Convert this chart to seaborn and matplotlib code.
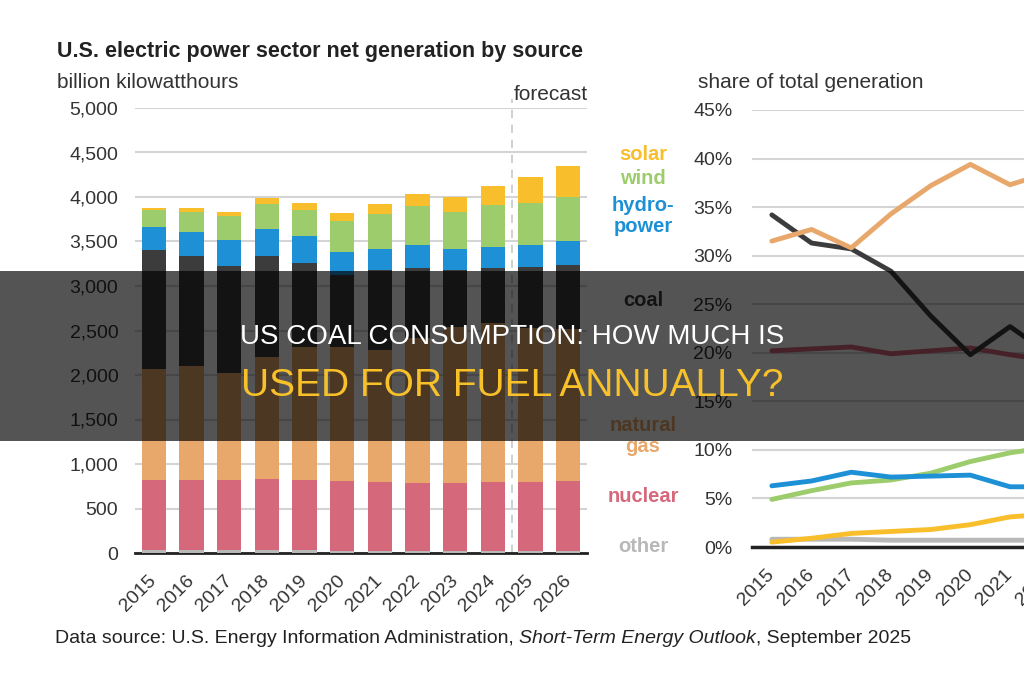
import matplotlib
matplotlib.use("Agg")
import matplotlib.pyplot as plt
import matplotlib.transforms as mtransforms
from matplotlib.patches import Rectangle
import seaborn as sns
import pandas as pd

# ---------------- data ----------------
years = ['2015', '2016', '2017', '2018', '2019', '2020',
         '2021', '2022', '2023', '2024', '2025', '2026']

# billion kWh, stacked bottom -> top
other = [30, 30, 30, 30, 30, 28, 28, 28, 28, 28, 28, 28]
nuclear = [790, 790, 790, 805, 790, 782, 772, 762, 762, 767, 767, 782]
natural_gas = [1250, 1280, 1205, 1365, 1495, 1505, 1480, 1630, 1750, 1785, 1735, 1710]
coal = [1330, 1240, 1200, 1140, 945, 810, 900, 780, 640, 620, 685, 715]
hydropower = [265, 265, 295, 300, 300, 260, 235, 260, 235, 240, 245, 270]
wind = [190, 225, 270, 280, 295, 345, 395, 440, 415, 470, 475, 495]
solar = [20, 50, 40, 70, 80, 90, 110, 135, 170, 215, 290, 350]

# share of total generation (%), 2015-2022
share_years = ['2015', '2016', '2017', '2018', '2019', '2020', '2021', '2022']
share_gas = [31.5, 32.7, 30.8, 34.3, 37.2, 39.4, 37.3, 38.6]
share_coal = [34.2, 31.3, 30.7, 28.4, 23.8, 19.8, 22.7, 19.8]
share_nuclear = [20.2, 20.4, 20.6, 19.9, 20.2, 20.5, 19.8, 19.2]
share_hydro = [6.3, 6.8, 7.7, 7.2, 7.3, 7.4, 6.2, 6.2]
share_wind = [4.9, 5.8, 6.6, 6.9, 7.6, 8.8, 9.7, 10.3]
share_solar = [0.5, 0.9, 1.4, 1.6, 1.8, 2.3, 3.1, 3.4]
share_other = [0.8, 0.8, 0.8, 0.7, 0.7, 0.7, 0.7, 0.7]

sources = ['other', 'nuclear', 'natural gas', 'coal', 'hydropower', 'wind', 'solar']
colors = {'other': '#b8b8b8', 'nuclear': '#d6687b', 'natural gas': '#e8a76b',
          'coal': '#3c3c3c', 'hydropower': '#1e90d6', 'wind': '#9ccc6b',
          'solar': '#f8be2c'}

gen = pd.DataFrame({'year': years, 'other': other, 'nuclear': nuclear,
                    'natural gas': natural_gas, 'coal': coal,
                    'hydropower': hydropower, 'wind': wind, 'solar': solar})
cum = gen[sources].cumsum(axis=1)

share = pd.DataFrame({'year': share_years, 'other': share_other,
                      'solar': share_solar, 'wind': share_wind,
                      'hydropower': share_hydro, 'nuclear': share_nuclear,
                      'coal': share_coal, 'natural gas': share_gas})
share['pos'] = [years.index(y) for y in share['year']]
share_long = share.melt(id_vars=['year', 'pos'], var_name='source', value_name='share')

# ---------------- style ----------------
sns.set_style("white")
plt.rcParams['font.family'] = ['Liberation Sans', 'DejaVu Sans']
txt = '#333333'

fig = plt.figure(figsize=(10.24, 6.8), dpi=100)
W, H = 1024, 680

# ---------------- left: stacked bars ----------------
ax = fig.add_axes([135 / W, 1 - 553 / H, 452 / W, 445 / H])
for src in reversed(sources):
    sns.barplot(x=gen['year'], y=cum[src], color=colors[src], width=0.64,
                saturation=1, linewidth=0, ax=ax, zorder=3)
ax.set_xlim(-0.5, 11.5)
ax.set_ylim(0, 5000)
ax.set_yticks(range(0, 5001, 500))
ax.set_yticklabels([f"{v:,}" for v in range(0, 5001, 500)])
ax.set_axisbelow(True)
ax.grid(axis='y', color='#d4d4d4', lw=1.5)
for s in ['left', 'right', 'top']:
    ax.spines[s].set_visible(False)
ax.spines['bottom'].set_color('#222222')
ax.spines['bottom'].set_linewidth(2)
ax.set_xlabel('')
ax.set_ylabel('')
ax.tick_params(axis='y', length=0, pad=12, labelsize=14, labelcolor=txt)
ax.set_xticks(range(12))
ax.set_xticks([i - 0.5 for i in range(13)], minor=True)
ax.tick_params(axis='x', which='major', length=0, pad=14, labelsize=14, labelcolor=txt)
ax.tick_params(axis='x', which='minor', length=5, width=1.5, color='#222222', direction='out')
ax.axvline(9.5, ymin=0, ymax=1.02, color='#c8c8c8', lw=1.2, ls=(0, (5, 4)),
           clip_on=False, zorder=1)

# ---------------- right: share lines ----------------
ax2 = fig.add_axes([752 / W, 1 - 547 / H, 12 * 39.7 / W, 437 / H])
sns.lineplot(data=share_long, x='pos', y='share', hue='source',
             palette=colors, linewidth=3.5, legend=False, ax=ax2, zorder=3)
ax2.set_xlim(-0.5, 11.5)
ax2.set_ylim(0, 45)
ax2.set_yticks(range(0, 46, 5))
ax2.set_yticklabels([f"{v}%" for v in range(0, 46, 5)])
ax2.set_xticks(range(12))
ax2.set_xticklabels(years)
ax2.grid(axis='y', color='#d4d4d4', lw=1.5)
ax2.set_axisbelow(True)
for s in ['left', 'right', 'top']:
    ax2.spines[s].set_visible(False)
ax2.spines['bottom'].set_color('#222222')
ax2.spines['bottom'].set_linewidth(2.5)
ax2.set_xlabel('')
ax2.set_ylabel('')
ax2.tick_params(axis='y', length=0, pad=14, labelsize=14, labelcolor=txt)
ax2.tick_params(axis='x', length=0, pad=14, labelsize=14, labelcolor=txt)

shift = mtransforms.ScaledTranslation(6 / 100, 0, fig.dpi_scale_trans)
for a in (ax, ax2):
    for lab in a.get_xticklabels():
        lab.set_rotation(45)
        lab.set_ha('right')
        lab.set_va('top')
        lab.set_transform(lab.get_transform() + shift)

# ---------------- texts ----------------
fig.text(57 / W, 1 - 57 / H, "U.S. electric power sector net generation by source",
         fontsize=15.5, weight='bold', color='#222222')
fig.text(57 / W, 1 - 88 / H, "billion kilowatthours", fontsize=15, color=txt)
fig.text(514 / W, 1 - 100 / H, "forecast", fontsize=15, color=txt)
fig.text(698 / W, 1 - 88 / H, "share of total generation", fontsize=15, color=txt)

legend_pos = [('solar', 'solar', 155), ('wind', 'wind', 178),
              ('hydro-\npower', 'hydropower', 216), ('coal', 'coal', 300),
              ('natural\ngas', 'natural gas', 436), ('nuclear', 'nuclear', 496),
              ('other', 'other', 546)]
for label, src, yy in legend_pos:
    fig.text(643 / W, 1 - yy / H, label, color=colors[src], fontsize=14.5,
             weight='bold', ha='center', va='center', linespacing=1.1)

# data source line with italic part
renderer = fig.canvas.get_renderer()
parts = [("Data source: U.S. Energy Information Administration, ", 'normal'),
         ("Short-Term Energy Outlook", 'italic'),
         (", September 2025", 'normal')]
x0 = 55 / W
for s, st in parts:
    t = fig.text(x0, 1 - 643 / H, s, fontsize=14, style=st, color='#222222')
    bb = t.get_window_extent(renderer=renderer)
    x0 = bb.x1 / fig.bbox.width

# ---------------- overlay banner ----------------
fig.add_artist(Rectangle((0, 1 - 441 / H), 1, 170 / H, transform=fig.transFigure,
                         facecolor='black', alpha=0.67, edgecolor='none', zorder=10))
fig.text(0.5, 1 - 344 / H, "US COAL CONSUMPTION: HOW MUCH IS", color='white',
         fontsize=20, ha='center', va='baseline', zorder=11)
fig.text(0.5, 1 - 396 / H, "USED FOR FUEL ANNUALLY?", color='#f8c12a',
         fontsize=28, ha='center', va='baseline', zorder=11)

fig.savefig("out.png", dpi=100)
